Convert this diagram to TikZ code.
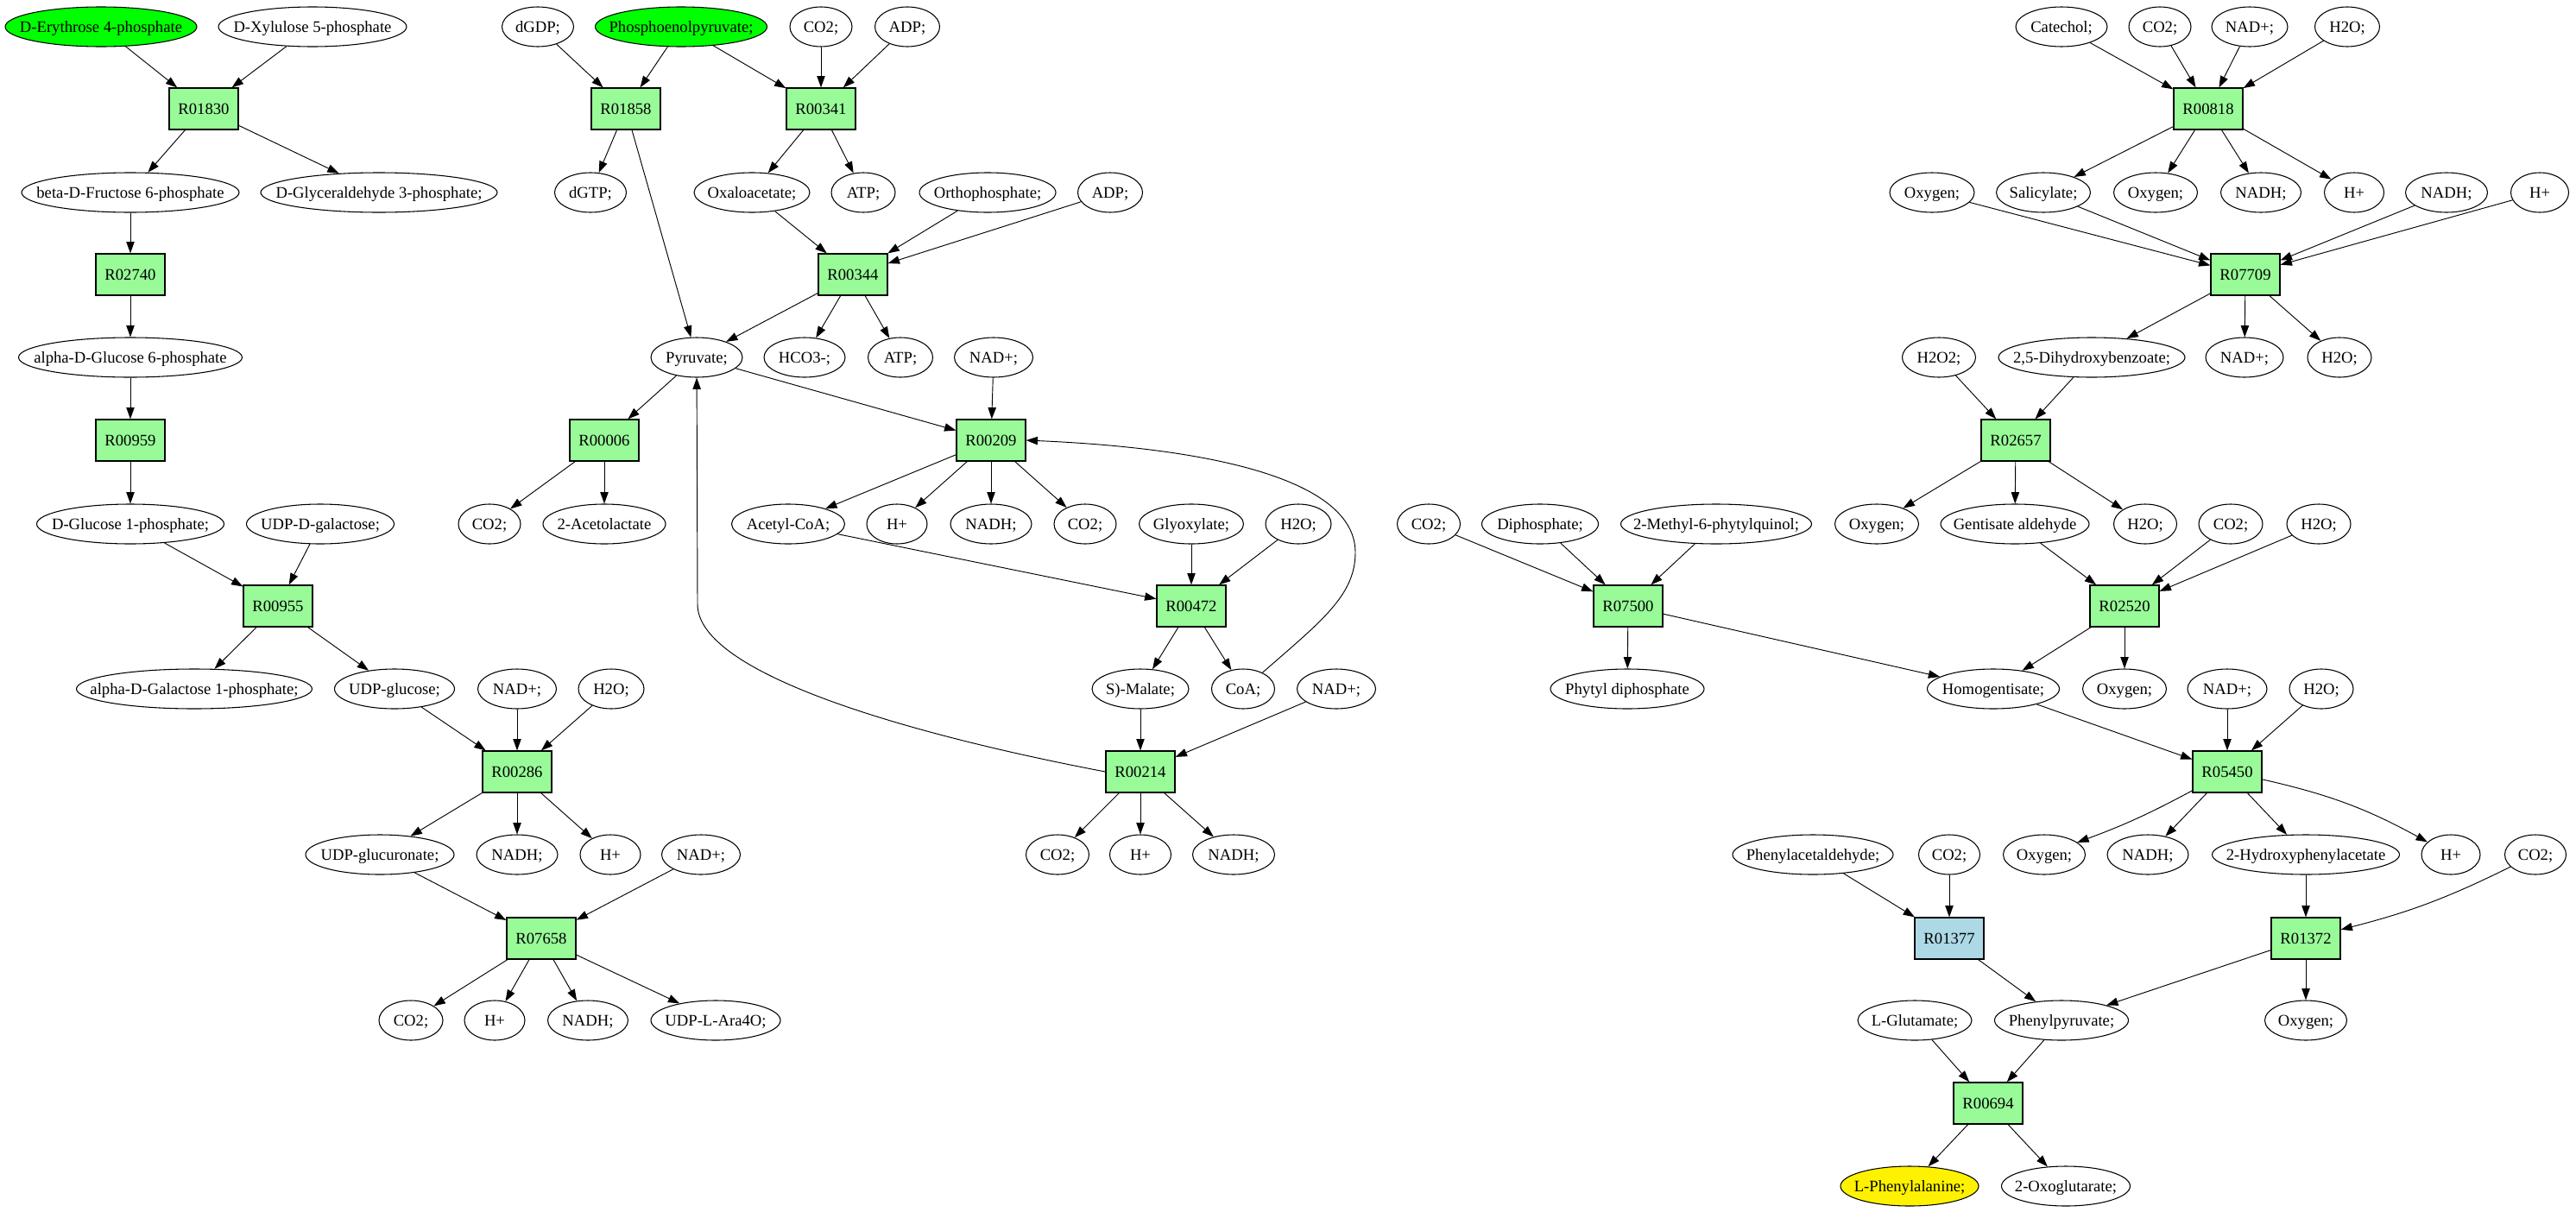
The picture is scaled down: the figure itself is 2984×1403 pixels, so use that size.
\documentclass[tikz,border=0pt]{standalone}
\usepackage{fontspec}
\setmainfont{Liberation Serif}
\usetikzlibrary{shapes.geometric,arrows.meta}
\definecolor{palegreen}{HTML}{98FB98}
\definecolor{lightblue}{HTML}{ADD8E6}

\begin{document}
\begin{tikzpicture}[x=0.75pt,y=-0.75pt,font=\fontsize{14}{16}\selectfont]
	\tikzset{
	met/.style={ellipse,draw,line width=0.8pt,inner sep=0pt,minimum height=34.5pt,minimum width=0.75pt*#1,
		text height=11pt,text depth=1.8pt,
		execute at begin node={\hbox to 0pt\bgroup\hss},execute at end node={\hss\egroup}},
	rxn/.style={rectangle,draw,line width=0.9pt,fill=palegreen,minimum width=60pt,minimum height=36pt,
		inner sep=0pt,text height=11pt,text depth=1.8pt},
	arrow/.style={-{Triangle[length=10pt,width=7pt]},line width=0.7pt}}

	\useasboundingbox (0,0) rectangle (2984,1403);

	%sugar branch
	\node[met=222,fill=green] (ery) at (117,31) {D-Erythrose 4-phosphate};
	\node[met=218] (xyl) at (362,31) {D-Xylulose 5-phosphate};
	\node[rxn] (r01830) at (236,126) {R01830};
	\node[met=252] (fru) at (151,223) {beta-D-Fructose 6-phosphate};
	\node[met=274] (gap) at (439,223) {D-Glyceraldehyde 3-phosphate;};
	\node[rxn] (r02740) at (151,318) {R02740};
	\node[met=259] (g6p) at (151,414) {alpha-D-Glucose 6-phosphate};
	\node[rxn] (r00959) at (151,510) {R00959};
	\node[met=217] (g1p) at (151,607) {D-Glucose 1-phosphate;};
	\node[met=171] (udpgal) at (371,607) {UDP-D-galactose;};
	\node[rxn] (r00955) at (322,702) {R00955};
	\node[met=273] (gal1p) at (225,798) {alpha-D-Galactose 1-phosphate;};
	\node[met=139] (udpglc) at (457,798) {UDP-glucose;};
	\node[met=91] (nad1) at (599,798) {NAD+;};
	\node[met=76] (hho1) at (708,798) {H2O;};
	\node[rxn] (r00286) at (599,894) {R00286};
	\node[met=172] (udpgla) at (440,990) {UDP-glucuronate;};
	\node[met=94] (nadh1) at (599,990) {NADH;};
	\node[met=70] (hp1) at (707,990) {H+};
	\node[met=91] (nad2) at (812,990) {NAD+;};
	\node[rxn] (r07658) at (627,1087) {R07658};
	\node[met=74] (co2a) at (476,1182) {CO2;};
	\node[met=70] (hp2) at (573,1182) {H+};
	\node[met=93] (nadh2) at (681,1182) {NADH;};
	\node[met=150] (ara) at (829,1182) {UDP-L-Ara4O;};

	\draw [arrow] (ery) -- (r01830);
	\draw [arrow] (xyl) -- (r01830);
	\draw [arrow] (r01830) -- (fru);
	\draw [arrow] (r01830) -- (gap);
	\draw [arrow] (fru) -- (r02740);
	\draw [arrow] (r02740) -- (g6p);
	\draw [arrow] (g6p) -- (r00959);
	\draw [arrow] (r00959) -- (g1p);
	\draw [arrow] (g1p) -- (r00955);
	\draw [arrow] (udpgal) -- (r00955);
	\draw [arrow] (r00955) -- (gal1p);
	\draw [arrow] (r00955) -- (udpglc);
	\draw [arrow] (udpglc) -- (r00286);
	\draw [arrow] (nad1) -- (r00286);
	\draw [arrow] (hho1) -- (r00286);
	\draw [arrow] (r00286) -- (udpgla);
	\draw [arrow] (r00286) -- (nadh1);
	\draw [arrow] (r00286) -- (hp1);
	\draw [arrow] (udpgla) -- (r07658);
	\draw [arrow] (nad2) -- (r07658);
	\draw [arrow] (r07658) -- (co2a);
	\draw [arrow] (r07658) -- (hp2);
	\draw [arrow] (r07658) -- (nadh2);
	\draw [arrow] (r07658) -- (ara);

	%pyruvate branch
	\node[met=83] (dgdp) at (623,31) {dGDP;};
	\node[met=199,fill=green] (pep) at (789,31) {Phosphoenolpyruvate;};
	\node[met=72] (co2b) at (951,31) {CO2;};
	\node[met=75] (adp1) at (1051,31) {ADP;};
	\node[rxn] (r01858) at (725,126) {R01858};
	\node[rxn] (r00341) at (951,126) {R00341};
	\node[met=83] (dgtp) at (684,223) {dGTP;};
	\node[met=134] (oaa) at (871,223) {Oxaloacetate;};
	\node[met=74] (atp1) at (1000,223) {ATP;};
	\node[met=158] (pi) at (1144,223) {Orthophosphate;};
	\node[met=75] (adp2) at (1286,223) {ADP;};
	\node[rxn] (r00344) at (988,318) {R00344};
	\node[met=106] (pyr) at (807,414) {Pyruvate;};
	\node[met=94] (hco3) at (932,414) {HCO3-;};
	\node[met=75] (atp2) at (1043,414) {ATP;};
	\node[met=91] (nad3) at (1151,414) {NAD+;};
	\node[rxn] (r00006) at (700,510) {R00006};
	\node[rxn] (r00209) at (1148,510) {R00209};
	\node[met=72] (co2c) at (567,607) {CO2;};
	\node[met=142] (acl) at (700,607) {2-Acetolactate};
	\node[met=131] (accoa) at (913,607) {Acetyl-CoA;};
	\node[met=70] (hp3) at (1039,607) {H+};
	\node[met=94] (nadh3) at (1148,607) {NADH;};
	\node[met=72] (co2d) at (1257,607) {CO2;};
	\node[met=121] (glx) at (1380,607) {Glyoxylate;};
	\node[met=76] (hho2) at (1504,607) {H2O;};
	\node[rxn] (r00472) at (1380,702) {R00472};
	\node[met=112] (mal) at (1321,798) {S)-Malate;};
	\node[met=73] (coa) at (1440,798) {CoA;};
	\node[met=91] (nad4) at (1548,798) {NAD+;};
	\node[rxn] (r00214) at (1321,894) {R00214};
	\node[met=73] (co2e) at (1225,990) {CO2;};
	\node[met=71] (hp4) at (1321,990) {H+};
	\node[met=95] (nadh4) at (1429,990) {NADH;};

	\draw [arrow] (dgdp) -- (r01858);
	\draw [arrow] (pep) -- (r01858);
	\draw [arrow] (pep) -- (r00341);
	\draw [arrow] (co2b) -- (r00341);
	\draw [arrow] (adp1) -- (r00341);
	\draw [arrow] (r01858) -- (dgtp);
	\draw [arrow] (r01858) -- (pyr);
	\draw [arrow] (r00341) -- (oaa);
	\draw [arrow] (r00341) -- (atp1);
	\draw [arrow] (oaa) -- (r00344);
	\draw [arrow] (pi) -- (r00344);
	\draw [arrow] (adp2) -- (r00344);
	\draw [arrow] (r00344) -- (pyr);
	\draw [arrow] (r00344) -- (hco3);
	\draw [arrow] (r00344) -- (atp2);
	\draw [arrow] (pyr) -- (r00006);
	\draw [arrow] (r00006) -- (co2c);
	\draw [arrow] (r00006) -- (acl);
	\draw [arrow] (pyr) -- (r00209);
	\draw [arrow] (nad3) -- (r00209);
	\draw [arrow] (r00209) -- (accoa);
	\draw [arrow] (r00209) -- (hp3);
	\draw [arrow] (r00209) -- (nadh3);
	\draw [arrow] (r00209) -- (co2d);
	\draw [arrow] (accoa) -- (r00472);
	\draw [arrow] (glx) -- (r00472);
	\draw [arrow] (hho2) -- (r00472);
	\draw [arrow] (r00472) -- (mal);
	\draw [arrow] (r00472) -- (coa);
	\draw [arrow] (coa.40) .. controls (1530,720) and (1570,690) .. (1570,640)
		.. controls (1570,560) and (1420,520) .. (r00209.east);
	\draw [arrow] (mal) -- (r00214);
	\draw [arrow] (nad4) -- (r00214);
	\draw [arrow] (r00214) -- (co2e);
	\draw [arrow] (r00214) -- (hp4);
	\draw [arrow] (r00214) -- (nadh4);
	\draw [arrow] (r00214.west) .. controls (1050,850) and (808,780) .. (808,700) -- (pyr);

	%phytyl and catechol branch
	\node[met=73] (co2f) at (1655,607) {CO2;};
	\node[met=135] (ppi) at (1784,607) {Diphosphate;};
	\node[met=221] (mpq) at (1988,607) {2-Methyl-6-phytylquinol;};
	\node[rxn] (r07500) at (1886,702) {R07500};
	\node[met=178] (phypp) at (1885,798) {Phytyl diphosphate};
	\node[met=106] (cat) at (2388,31) {Catechol;};
	\node[met=72] (co2g) at (2502,31) {CO2;};
	\node[met=88] (nad5) at (2606,31) {NAD+;};
	\node[met=75] (hho3) at (2719,31) {H2O;};
	\node[rxn] (r00818) at (2558,126) {R00818};
	\node[met=98] (oxa) at (2238,223) {Oxygen;};
	\node[met=109] (sal) at (2367,223) {Salicylate;};
	\node[met=97] (oxb) at (2497,223) {Oxygen;};
	\node[met=93] (nadh5) at (2619,223) {NADH;};
	\node[met=69] (hp5) at (2727,223) {H+};
	\node[met=95] (nadh6) at (2834,223) {NADH;};
	\node[met=67] (hp6) at (2942,223) {H+};
	\node[rxn] (r07709) at (2601,318) {R07709};
	\node[met=85] (hhoo) at (2246,414) {H2O2;};
	\node[met=216] (dhb) at (2423,414) {2,5-Dihydroxybenzoate;};
	\node[met=90] (nad6) at (2600,414) {NAD+;};
	\node[met=74] (hho4) at (2710,414) {H2O;};
	\node[rxn] (r02657) at (2335,510) {R02657};
	\node[met=97] (oxc) at (2174,607) {Oxygen;};
	\node[met=172] (gald) at (2334,607) {Gentisate aldehyde};
	\node[met=73] (hho5) at (2485,607) {H2O;};
	\node[met=74] (co2h) at (2584,607) {CO2;};
	\node[met=74] (hho6) at (2686,607) {H2O;};
	\node[rxn] (r02520) at (2461,702) {R02520};
	\node[met=153] (hga) at (2309,798) {Homogentisate;};
	\node[met=97] (oxd) at (2461,798) {Oxygen;};
	\node[met=92] (nad7) at (2580,798) {NAD+;};
	\node[met=74] (hho7) at (2689,798) {H2O;};
	\node[rxn] (r05450) at (2580,894) {R05450};
	\node[met=186] (phald) at (2100,990) {Phenylacetaldehyde;};
	\node[met=71] (co2i) at (2258,990) {CO2;};
	\node[met=95] (oxe) at (2368,990) {Oxygen;};
	\node[met=94] (nadh7) at (2488,990) {NADH;};
	\node[met=217] (hpa) at (2671,990) {2-Hydroxyphenylacetate};
	\node[met=68] (hp7) at (2839,990) {H+};
	\node[met=71] (co2j) at (2937,990) {CO2;};
	\node[rxn,fill=lightblue] (r01377) at (2258,1087) {R01377};
	\node[rxn] (r01372) at (2671,1087) {R01372};
	\node[met=132] (glu) at (2218,1182) {L-Glutamate;};
	\node[met=155] (php) at (2388,1182) {Phenylpyruvate;};
	\node[met=95] (oxf) at (2671,1182) {Oxygen;};
	\node[rxn] (r00694) at (2303,1278) {R00694};
	\node[met=160,fill=yellow] (phe) at (2212,1374) {L-Phenylalanine;};
	\node[met=149] (akg) at (2393,1374) {2-Oxoglutarate;};

	\draw [arrow] (co2f) -- (r07500);
	\draw [arrow] (ppi) -- (r07500);
	\draw [arrow] (mpq) -- (r07500);
	\draw [arrow] (r07500) -- (phypp);
	\draw [arrow] (r07500) -- (hga);
	\draw [arrow] (cat) -- (r00818);
	\draw [arrow] (co2g) -- (r00818);
	\draw [arrow] (nad5) -- (r00818);
	\draw [arrow] (hho3) -- (r00818);
	\draw [arrow] (r00818) -- (sal);
	\draw [arrow] (r00818) -- (oxb);
	\draw [arrow] (r00818) -- (nadh5);
	\draw [arrow] (r00818) -- (hp5);
	\draw [arrow] (oxa) -- (r07709);
	\draw [arrow] (sal) -- (r07709);
	\draw [arrow] (nadh6) -- (r07709);
	\draw [arrow] (hp6) -- (r07709);
	\draw [arrow] (r07709) -- (dhb);
	\draw [arrow] (r07709) -- (nad6);
	\draw [arrow] (r07709) -- (hho4);
	\draw [arrow] (hhoo) -- (r02657);
	\draw [arrow] (dhb) -- (r02657);
	\draw [arrow] (r02657) -- (oxc);
	\draw [arrow] (r02657) -- (gald);
	\draw [arrow] (r02657) -- (hho5);
	\draw [arrow] (gald) -- (r02520);
	\draw [arrow] (co2h) -- (r02520);
	\draw [arrow] (hho6) -- (r02520);
	\draw [arrow] (r02520) -- (hga);
	\draw [arrow] (r02520) -- (oxd);
	\draw [arrow] (hga) -- (r05450);
	\draw [arrow] (nad7) -- (r05450);
	\draw [arrow] (hho7) -- (r05450);
	\draw [arrow] (r05450) to[bend left=4] (oxe);
	\draw [arrow] (r05450) -- (nadh7);
	\draw [arrow] (r05450) -- (hpa);
	\draw [arrow] (r05450) to[bend left=8] (hp7);
	\draw [arrow] (phald) -- (r01377);
	\draw [arrow] (co2i) -- (r01377);
	\draw [arrow] (hpa) -- (r01372);
	\draw [arrow] (co2j) to[bend left=6] (r01372);
	\draw [arrow] (r01377) -- (php);
	\draw [arrow] (r01372) -- (php);
	\draw [arrow] (r01372) -- (oxf);
	\draw [arrow] (glu) -- (r00694);
	\draw [arrow] (php) -- (r00694);
	\draw [arrow] (r00694) -- (phe);
	\draw [arrow] (r00694) -- (akg);

\end{tikzpicture}
\end{document}
